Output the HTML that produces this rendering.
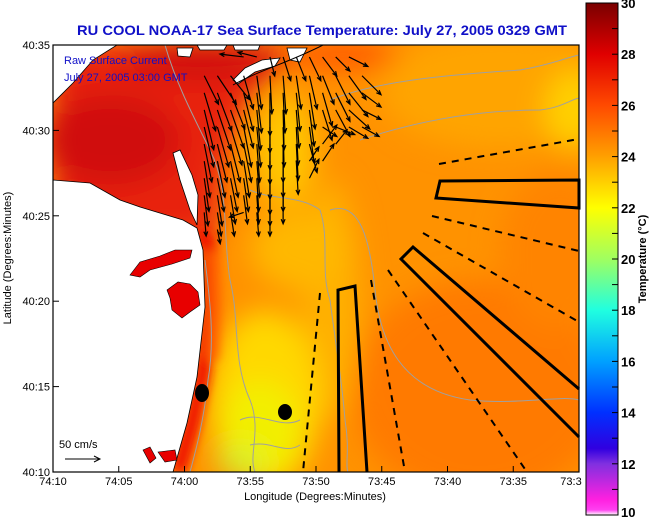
<!DOCTYPE html>
<html><head><meta charset="utf-8"><style>
html,body{margin:0;padding:0;background:#fff;width:651px;height:518px;overflow:hidden}
svg{display:block;font-family:"Liberation Sans",sans-serif}
</style></head><body>
<svg id="chart" width="651" height="518" viewBox="0 0 651 518" xmlns="http://www.w3.org/2000/svg">
<defs>
<clipPath id="plotclip"><rect x="53" y="45" width="526" height="427"/></clipPath>
<filter id="blur" x="-50%" y="-50%" width="200%" height="200%"><feGaussianBlur stdDeviation="14"/></filter>
<filter id="blur2" x="-50%" y="-50%" width="200%" height="200%"><feGaussianBlur stdDeviation="5"/></filter>
<linearGradient id="cbgrad" x1="0" y1="0" x2="0" y2="1">
<stop offset="0" stop-color="#7a0000"/>
<stop offset="0.1" stop-color="#e00000"/>
<stop offset="0.2" stop-color="#ff4a00"/>
<stop offset="0.3" stop-color="#ffa000"/>
<stop offset="0.4" stop-color="#ffff00"/>
<stop offset="0.5" stop-color="#a0ff60"/>
<stop offset="0.6" stop-color="#20ffe0"/>
<stop offset="0.7" stop-color="#00a0ff"/>
<stop offset="0.8" stop-color="#0030ff"/>
<stop offset="0.87" stop-color="#3000e0"/>
<stop offset="0.9" stop-color="#8030e0"/>
<stop offset="0.97" stop-color="#ff20e0"/>
<stop offset="0.99" stop-color="#ff40f0"/>
<stop offset="1" stop-color="#ffffff"/>
</linearGradient>
</defs>

<text x="322" y="35" text-anchor="middle" font-size="14" font-weight="bold" fill="#1010c8" textLength="490" lengthAdjust="spacingAndGlyphs">RU COOL  NOAA-17  Sea Surface Temperature:  July 27, 2005 0329 GMT</text>

<g clip-path="url(#plotclip)">
<rect x="53" y="45" width="526" height="427" fill="#ff9200"/>
<g filter="url(#blur)">
<ellipse cx="500" cy="90" rx="120" ry="60" fill="#ffa400"/>
<ellipse cx="575" cy="110" rx="30" ry="40" fill="#ffd000"/>
<ellipse cx="480" cy="390" rx="130" ry="110" fill="#ff7a00"/>
<ellipse cx="560" cy="250" rx="60" ry="80" fill="#ff8400"/>
<ellipse cx="330" cy="300" rx="30" ry="120" fill="#ffb000"/>
<ellipse cx="300" cy="250" rx="50" ry="40" fill="#ffb800"/>
<ellipse cx="265" cy="400" rx="55" ry="90" fill="#ffd800"/>
<ellipse cx="260" cy="430" rx="40" ry="50" fill="#f2ef00"/>
<ellipse cx="240" cy="462" rx="25" ry="14" fill="#d0f030"/>
<polygon points="53,45 300,45 250,100 225,160 215,240 53,240" fill="#e8200c"/>
<ellipse cx="285" cy="150" rx="30" ry="55" fill="#ffc800"/>
<ellipse cx="110" cy="140" rx="70" ry="45" fill="#d01010"/>
<ellipse cx="200" cy="60" rx="80" ry="20" fill="#d01010"/>
<ellipse cx="340" cy="55" rx="60" ry="14" fill="#ff5500"/>
</g>
<g filter="url(#blur2)">
<path d="M200,230 L210,250 L210,307 L202,377 L192,423 L178,472" stroke="#f01800" stroke-width="16" fill="none"/>
<path d="M214,250 L215,307 L212,360" stroke="#ff6000" stroke-width="12" fill="none"/>
</g>
<g fill="none" stroke="#a0a0a0" stroke-width="1">
<path d="M165,45 C175,80 190,110 210,150 C230,190 222,230 230,280 C240,320 232,360 250,400 C262,430 248,455 255,472"/>
<path d="M250,190 C270,200 300,195 320,210 C330,240 320,270 330,300 C335,340 342,380 345,420 C350,450 345,465 348,472"/>
<path d="M330,210 C360,200 370,240 375,290 C380,340 400,390 470,400 C520,405 560,395 579,400"/>
<path d="M330,100 C380,80 450,75 520,70 C550,65 565,58 579,55"/>
<path d="M360,140 C420,120 480,110 540,110 C560,108 570,100 579,98"/>
<path d="M205,260 C210,300 215,340 208,380 C204,420 196,450 190,472"/>
<path d="M240,420 C260,410 280,430 300,420 M250,445 C270,440 285,455 300,445"/>
</g>
<g fill="#ffffff" stroke="#000" stroke-width="0.8">
<polygon points="53,45 117,45 93,60 73,83 53,103"/>
<polygon points="53,180 90,183 120,200 140,207 183,220 197,228 203,250 205,307 197,377 187,423 173,472 53,472"/>
<polygon points="173,153 180,150 192,175 198,195 197,225 190,210 180,180"/>
<polygon points="177,48 193,48 190,57 178,56"/>
<polygon points="197,45 227,45 224,50 200,50"/>
<polygon points="233,45 260,45 258,50 235,50"/>
<polygon points="233,80 245,68 262,60 280,58 275,66 255,72 238,84"/>
<polygon points="287,48 307,48 300,62 290,60"/>
</g>
<g fill="#e80000" stroke="#000" stroke-width="0.6">
<polygon points="130,275 140,262 160,256 175,250 192,250 190,258 172,264 150,270 140,277"/>
<polygon points="167,290 178,282 190,284 198,292 200,305 190,312 182,318 172,310 170,298"/>
<polygon points="143,450 150,447 156,458 150,463"/>
<polygon points="158,452 175,450 177,460 165,462"/>
</g>
<path d="M233,85 C260,70 290,62 323,45" stroke="#000" stroke-width="1" fill="none"/>
</g>

<g id="arrows" stroke="#000" stroke-width="1.2" fill="none"></g>

<g fill="none" stroke="#000">
<polygon points="440,181 579,180 579,208 436,198" stroke-width="3"/>
<polyline points="579,389 413,247 401,259 579,437" stroke-width="3"/>
<polyline points="339,472 338,290 355,286 367,472" stroke-width="3"/>
<line x1="439" y1="164" x2="579" y2="139" stroke-width="2" stroke-dasharray="7,6"/>
<line x1="432" y1="216" x2="579" y2="251" stroke-width="2" stroke-dasharray="7,6"/>
<line x1="423" y1="233" x2="579" y2="322" stroke-width="2" stroke-dasharray="7,6"/>
<line x1="388" y1="270" x2="527" y2="472" stroke-width="2" stroke-dasharray="7,6"/>
<line x1="371" y1="280" x2="405" y2="472" stroke-width="2" stroke-dasharray="7,6"/>
<line x1="320" y1="293" x2="303" y2="472" stroke-width="2" stroke-dasharray="7,6"/>
</g>

<ellipse cx="202" cy="393" rx="7" ry="9" fill="#000"/>
<ellipse cx="285" cy="412" rx="7" ry="8" fill="#000"/>

<text x="64" y="64" font-size="11" fill="#1010c8">Raw Surface Current</text>
<text x="64" y="81" font-size="11" fill="#1010c8">July 27, 2005 03:00 GMT</text>
<text x="59" y="448" font-size="11" fill="#000">50 cm/s</text>
<g stroke="#000" fill="none" stroke-width="1">
<line x1="65" y1="459" x2="100" y2="459"/><polyline points="94,456 100,459 94,462"/>
</g>

<rect x="53" y="45" width="526" height="427" fill="none" stroke="#000" stroke-width="1.2"/>
<g id="axes" font-size="11" fill="#000"></g>
<text x="315" y="500" text-anchor="middle" font-size="11">Longitude (Degrees:Minutes)</text>
<text transform="translate(11,258) rotate(-90)" text-anchor="middle" font-size="11">Latitude (Degrees:Minutes)</text>

<rect x="586" y="3" width="32" height="512" fill="url(#cbgrad)" stroke="#000" stroke-width="1"/>
<g id="cbticks"></g>
<text transform="translate(646,259) rotate(-90)" text-anchor="middle" font-size="11" font-weight="bold">Temperature (°C)</text>
</svg>
<script>
// axis data
const lonTicks = ["74:10","74:05","74:00","73:55","73:50","73:45","73:40","73:35","73:3"];
const latTicks = ["40:35","40:30","40:25","40:20","40:15","40:10"];
const cbLabels = [30,28,26,24,22,20,18,16,14,12,10];
// current vectors: lat (minutes above 40:10), lon start minutes west of 74:10 (east positive)
const arrowLats = [24.3,23.2,22.2,21.2,20.2,19.2,18.2,17.2,16.2,15.2,14.2];
const arrowLon0 = 11.5;
const arrowRows = [
"- - - -25,3 -20,5 5,-20 8,-25 10,-25 12,-25 15,-20 15,-15 20,-10 -",
"15,-30 20,-30 20,-25 10,-35 5,-35 2,-40 3,-40 5,-35 8,-35 12,-30 15,-30 18,-25 20,-20",
"12,-40 15,-40 15,-38 10,-40 5,-42 0,-45 2,-42 4,-40 6,-38 10,-35 15,-30 20,-25 20,-15",
"10,-42 14,-42 14,-40 10,-40 4,-42 0,-45 1,-42 3,-40 5,-38 10,-32 15,-28 22,-20 20,-10",
"10,-42 12,-42 12,-40 8,-42 4,-42 0,-45 1,-42 2,-40 5,-38 15,-10 20,-8 20,-12 18,-10",
"8,-40 10,-40 10,-40 8,-40 3,-40 0,-42 0,-40 2,-38 8,-30 15,20 12,15 - -",
"6,-38 8,-38 8,-38 6,-38 3,-38 0,-40 0,-38 2,-35 10,15 12,18 - - -",
"5,-35 7,-35 7,-35 5,-35 2,-35 0,-38 0,-35 - 10,20 - - - -",
"4,-32 5,-32 5,-30 4,-30 2,-30 0,-32 0,-30 - - - - - -",
"2,-25 4,-25 4,-25 -15,-5 2,-25 0,-25 - - - - - - -",
"- 3,-15 - - - - - - - - - - -"
];
const NS="http://www.w3.org/2000/svg";
const X0=53,X1=579,Y0=45,Y1=472;
function xLon(m){return X0+m*(X1-X0)/40;}
function yLat(m){return Y1-m*(Y1-Y0)/25;}
const SC=0.95;
const ag=document.getElementById('arrows');
arrowRows.forEach((row,ri)=>{
  row.split(' ').forEach((c,ci)=>{
    if(c==='-')return;
    const [u,v]=c.split(',').map(Number);
    const x=xLon(arrowLon0+ci), y=yLat(arrowLats[ri]);
    const x2=x+u*SC, y2=y-v*SC;
    const p=document.createElementNS(NS,'path');
    const a=Math.atan2(y2-y,x2-x), h=5;
    const hx1=x2-h*Math.cos(a-0.4), hy1=y2-h*Math.sin(a-0.4);
    const hx2=x2-h*Math.cos(a+0.4), hy2=y2-h*Math.sin(a+0.4);
    p.setAttribute('d',`M${x},${y}L${x2},${y2}M${hx1},${hy1}L${x2},${y2}L${hx2},${hy2}`);
    
    
    ag.appendChild(p);
  });
});
const ax=document.getElementById('axes');
lonTicks.forEach((t,i)=>{
  const x=xLon(i*5);
  const tk=document.createElementNS(NS,'line');
  tk.setAttribute('x1',x);tk.setAttribute('x2',x);tk.setAttribute('y1',Y1);tk.setAttribute('y2',Y1-6);
  tk.setAttribute('stroke','#000');
  
  
  ax.appendChild(tk);
  const tx=document.createElementNS(NS,'text');
  tx.setAttribute('x',i===8?x-8:x);tx.setAttribute('y',Y1+13);tx.setAttribute('text-anchor','middle');
  tx.textContent=t;
  
  
  ax.appendChild(tx);
});
latTicks.forEach((t,i)=>{
  const y=yLat(25-i*5);
  const tk=document.createElementNS(NS,'line');
  tk.setAttribute('x1',X0);tk.setAttribute('x2',X0+6);tk.setAttribute('y1',y);tk.setAttribute('y2',y);
  tk.setAttribute('stroke','#000');
  
  
  ax.appendChild(tk);
  const tx=document.createElementNS(NS,'text');
  tx.setAttribute('x',X0-3);tx.setAttribute('y',y+4);tx.setAttribute('text-anchor','end');
  tx.textContent=t;
  
  
  ax.appendChild(tx);
});
const cb=document.getElementById('cbticks');
const CB0=3,CB1=515,TMAX=30,TMIN=10;
function yT(t){return CB0+(TMAX-t)*(CB1-CB0)/(TMAX-TMIN);}
for(let t=TMIN;t<=TMAX;t++){
  const y=yT(t);
  const l=document.createElementNS(NS,'line');
  l.setAttribute('x1',612);l.setAttribute('x2',618);l.setAttribute('y1',y);l.setAttribute('y2',y);
  l.setAttribute('stroke','#000');
  
  
  cb.appendChild(l);
}
cbLabels.forEach(t=>{
  const tx=document.createElementNS(NS,'text');
  tx.setAttribute('x',621);tx.setAttribute('y',Math.min(yT(t)+5,517));
  tx.setAttribute('font-size','13');tx.setAttribute('font-weight','bold');
  tx.textContent=t;
  
  
  cb.appendChild(tx);
});
</script>
</body></html>
